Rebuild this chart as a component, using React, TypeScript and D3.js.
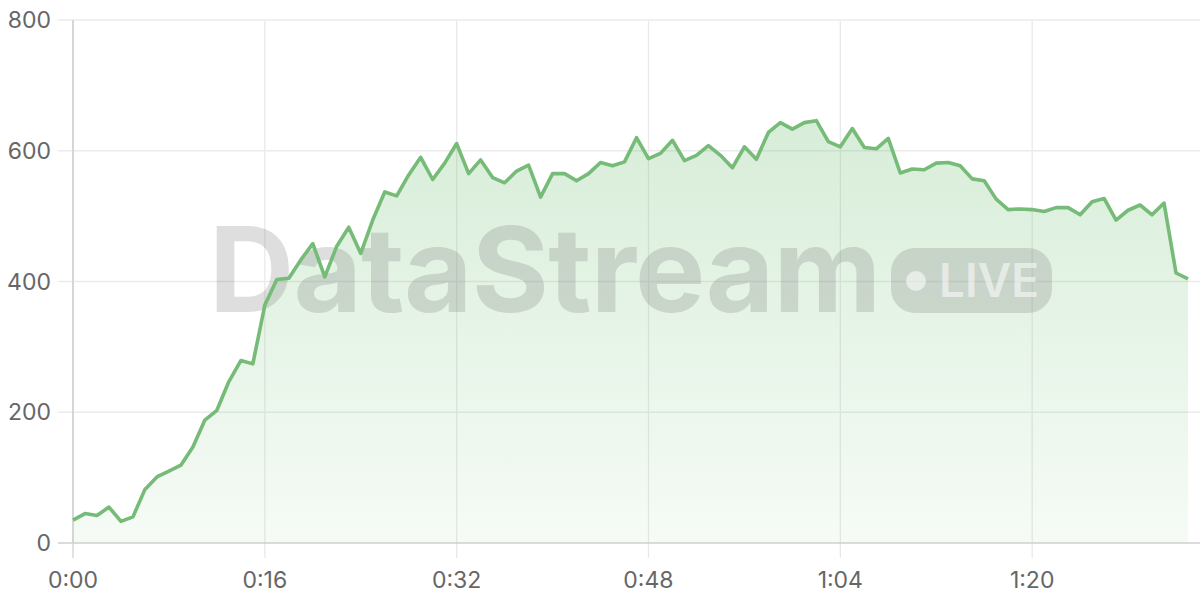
import { useEffect, useRef } from "react";
import * as d3 from "d3";

// throughput samples, one per second
const values = [
  35, 45, 42, 55, 33, 40, 82, 101, 110, 119, 147, 188, 203, 247, 279, 274,
  364, 403, 405, 433, 458, 407, 454, 483, 443, 494, 537, 531, 563, 590, 556,
  581, 611, 565, 586, 559, 551, 569, 578, 529, 565, 565, 554, 565, 582, 577,
  583, 620, 588, 596, 616, 585, 593, 608, 593, 574, 606, 587, 628, 643, 633,
  643, 646, 614, 606, 634, 605, 603, 619, 566, 572, 571, 581, 582, 577, 557,
  554, 526, 510, 511, 510, 507, 513, 513, 502, 522, 527, 494, 509, 517, 502,
  520, 413, 404,
];

const xTicks = [0, 16, 32, 48, 64, 80];
const yTicks = [0, 200, 400, 600, 800];

const WIDTH = 1200;
const HEIGHT = 600;
const FONT = "Inter, 'Noto Sans', sans-serif";

export default function App() {
  const svgRef = useRef<SVGSVGElement>(null);

  useEffect(() => {
    if (!svgRef.current) return;
    const svg = d3.select(svgRef.current);
    svg.selectAll("*").remove();

    const margin = { top: 20, right: 0, bottom: 57, left: 73 };
    const x = d3
      .scaleLinear()
      .domain([0, 94])
      .range([margin.left, WIDTH - margin.right]);
    const y = d3
      .scaleLinear()
      .domain([0, 800])
      .range([HEIGHT - margin.bottom, margin.top]);

    const data = values.map((v, i) => ({ t: i, v }));

    // gradient for the area
    const grad = svg
      .append("defs")
      .append("linearGradient")
      .attr("id", "areaGradient")
      .attr("gradientUnits", "userSpaceOnUse")
      .attr("x1", 0)
      .attr("y1", y(650))
      .attr("x2", 0)
      .attr("y2", y(0));
    grad.append("stop").attr("offset", "0%").attr("stop-color", "#66bb6a").attr("stop-opacity", 0.26);
    grad.append("stop").attr("offset", "100%").attr("stop-color", "#66bb6a").attr("stop-opacity", 0.06);

    // vertical grid + ticks
    svg
      .append("g")
      .selectAll("line")
      .data(xTicks)
      .join("line")
      .attr("x1", (d) => x(d))
      .attr("x2", (d) => x(d))
      .attr("y1", y(800))
      .attr("y2", y(0) + 15)
      .attr("stroke", (d) => (d === 0 ? "#d2d2d2" : "#e9e9e9"))
      .attr("stroke-width", 1.3);

    // horizontal grid
    svg
      .append("g")
      .selectAll("line")
      .data(yTicks.filter((d) => d !== 0))
      .join("line")
      .attr("x1", x(0) - 15)
      .attr("x2", WIDTH)
      .attr("y1", (d) => y(d))
      .attr("y2", (d) => y(d))
      .attr("stroke", "#ebebeb")
      .attr("stroke-width", 1.3);

    // area
    const area = d3
      .area<{ t: number; v: number }>()
      .x((d) => x(d.t))
      .y0(y(0))
      .y1((d) => y(d.v));
    svg.append("path").datum(data).attr("fill", "url(#areaGradient)").attr("d", area);

    // y axis line
    svg
      .append("line")
      .attr("x1", x(0))
      .attr("x2", x(0))
      .attr("y1", y(800))
      .attr("y2", y(0))
      .attr("stroke", "#d2d2d2")
      .attr("stroke-width", 1.5);

    // x axis line
    svg
      .append("line")
      .attr("x1", x(0) - 15)
      .attr("x2", WIDTH)
      .attr("y1", y(0))
      .attr("y2", y(0))
      .attr("stroke", "#cfcfcf")
      .attr("stroke-width", 1.5);

    // watermark
    const wm = svg.append("g").attr("pointer-events", "none");
    wm.append("text")
      .attr("x", 209)
      .attr("y", 312)
      .attr("font-family", FONT)
      .attr("font-weight", 700)
      .attr("font-size", 118)
      .attr("letter-spacing", -0.8)
      .attr("fill", "#7a7a7a")
      .attr("fill-opacity", 0.25)
      .text("DataStream");
    wm.append("rect")
      .attr("x", 891)
      .attr("y", 248)
      .attr("width", 161)
      .attr("height", 65)
      .attr("rx", 24)
      .attr("fill", "#7a7a7a")
      .attr("fill-opacity", 0.25);
    wm.append("circle")
      .attr("cx", 916)
      .attr("cy", 281)
      .attr("r", 10)
      .attr("fill", "#ffffff")
      .attr("fill-opacity", 0.55);
    wm.append("text")
      .attr("x", 939)
      .attr("y", 297)
      .attr("font-family", FONT)
      .attr("font-weight", 600)
      .attr("font-size", 46)
      .attr("fill", "#ffffff")
      .attr("fill-opacity", 0.55)
      .text("LIVE");

    // line
    const line = d3
      .line<{ t: number; v: number }>()
      .x((d) => x(d.t))
      .y((d) => y(d.v));
    svg
      .append("path")
      .datum(data)
      .attr("fill", "none")
      .attr("stroke", "#76bb77")
      .attr("stroke-width", 3.6)
      .attr("stroke-linejoin", "round")
      .attr("d", line);

    // tick labels
    const fmt = (s: number) => `${Math.floor(s / 60)}:${String(s % 60).padStart(2, "0")}`;
    svg
      .append("g")
      .selectAll("text")
      .data(xTicks)
      .join("text")
      .attr("x", (d) => x(d))
      .attr("y", y(0) + 45)
      .attr("text-anchor", "middle")
      .attr("font-family", FONT)
      .attr("font-size", 23)
      .attr("fill", "#666")
      .text((d) => fmt(d));

    svg
      .append("g")
      .selectAll("text")
      .data(yTicks)
      .join("text")
      .attr("x", 51)
      .attr("y", (d) => y(d))
      .attr("dy", "0.35em")
      .attr("text-anchor", "end")
      .attr("font-family", FONT)
      .attr("font-size", 23)
      .attr("fill", "#666")
      .text((d) => d);
  }, []);

  return (
    <div style={{ position: "fixed", left: 0, top: 0, width: WIDTH, height: HEIGHT, background: "#fff" }}>
      <svg ref={svgRef} width={WIDTH} height={HEIGHT} style={{ display: "block" }} />
    </div>
  );
}
